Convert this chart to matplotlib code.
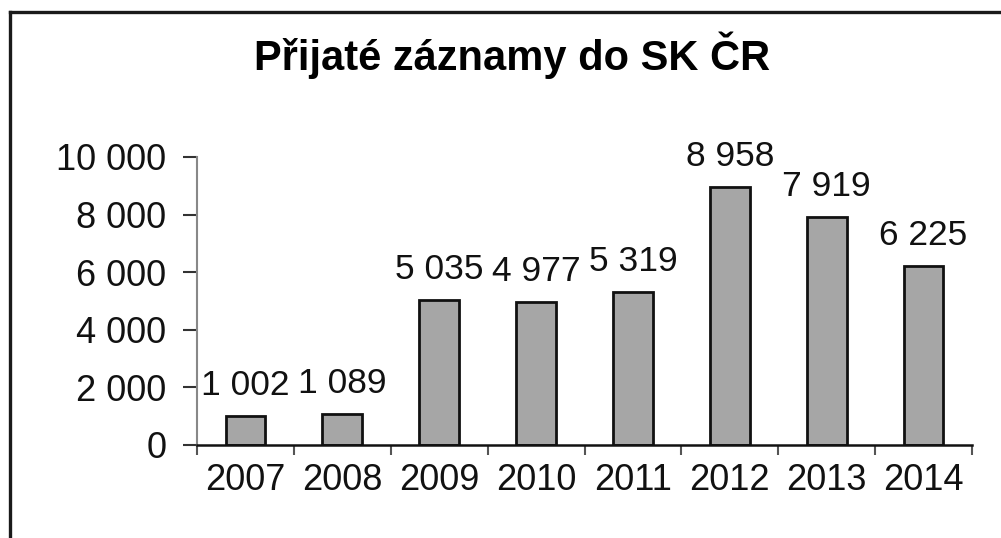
import matplotlib
matplotlib.use("Agg")
import matplotlib.pyplot as plt
from matplotlib.lines import Line2D
from matplotlib.ticker import FixedLocator, FuncFormatter

years = ["2007", "2008", "2009", "2010", "2011", "2012", "2013", "2014"]
values = [1002, 1089, 5035, 4977, 5319, 8958, 7919, 6225]
yticks = [0, 2000, 4000, 6000, 8000, 10000]
title = "Přijaté záznamy do SK ČR"

def fmt(v):
    return f"{int(v):,}".replace(",", " ")

plt.rcParams['font.family'] = ['Liberation Sans', 'DejaVu Sans']

W, H = 1001, 538
fig = plt.figure(figsize=(W / 100, H / 100), dpi=100)
fig.patch.set_facecolor('white')

left, right = 197 / W, 972 / W
bottom, top = (H - 445) / H, (H - 157) / H
ax = fig.add_axes([left, bottom, right - left, top - bottom])

x = list(range(len(years)))
ax.bar(x, values, width=0.41, color='#a6a6a6', edgecolor='#111111', linewidth=2.0, zorder=3)

for xi, v in zip(x, values):
    ax.annotate(fmt(v), (xi, v), xytext=(0, 15), textcoords='offset points',
                ha='center', va='baseline', fontsize=25.5, color='#111111')

ax.set_xlim(-0.5, len(years) - 0.5)
ax.set_ylim(0, 10000)

ax.set_yticks(yticks)
ax.yaxis.set_major_formatter(FuncFormatter(lambda v, p: fmt(v)))
ax.tick_params(axis='y', length=10, width=1.5, color='#333333', pad=12,
               labelsize=26, labelcolor='#111111')

ax.set_xticks(x)
ax.set_xticklabels(years)
ax.tick_params(axis='x', which='major', length=0, pad=13, labelsize=26, labelcolor='#111111')
ax.xaxis.set_minor_locator(FixedLocator([i - 0.5 for i in range(len(years) + 1)]))
ax.tick_params(axis='x', which='minor', length=7, width=1.5, color='#555555', direction='out')

for s in ['top', 'right']:
    ax.spines[s].set_visible(False)
ax.spines['left'].set_color('#888888')
ax.spines['left'].set_linewidth(1.5)
ax.spines['bottom'].set_color('#111111')
ax.spines['bottom'].set_linewidth(1.8)
ax.spines['bottom'].set_zorder(4)

fig.text(512 / W, 1 - 70 / H, title, ha='center', va='baseline',
         fontsize=30, fontweight='bold', color='#000000')

bx = 10 / W
by = 1 - 12 / H
fig.add_artist(Line2D([bx, bx], [0, by], transform=fig.transFigure, color='#1a1a1a', linewidth=2.4))
fig.add_artist(Line2D([bx, 1], [by, by], transform=fig.transFigure, color='#1a1a1a', linewidth=2.4))

fig.savefig('out.png', dpi=100, facecolor='white')
